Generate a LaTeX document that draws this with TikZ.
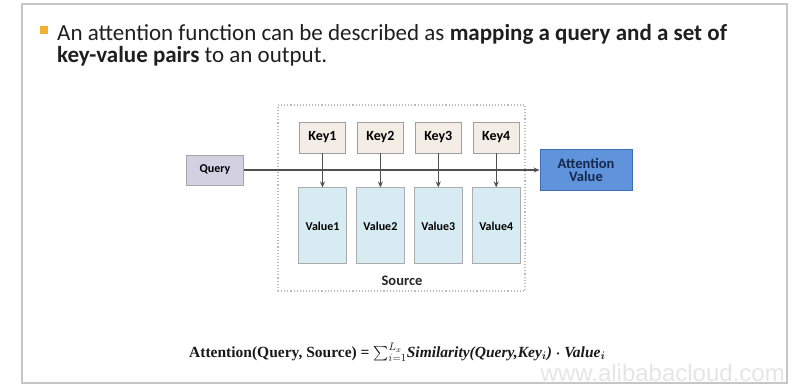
\documentclass[tikz,border=0pt]{standalone}
\usepackage{fontspec}
\setmainfont{Carlito}
\newfontfamily\formfont{Liberation Serif}
\newfontfamily\markfont{Liberation Sans}
\usepackage{amsmath}
\usepackage{xcolor}
\usetikzlibrary{arrows.meta, positioning}

\definecolor{keyfill}{HTML}{F4EDE6}
\definecolor{valfill}{HTML}{D6ECF2}
\definecolor{qryfill}{HTML}{D3D0E2}
\definecolor{attfill}{HTML}{5F93DB}
\definecolor{attline}{HTML}{3F6DB3}
\definecolor{atttext}{HTML}{17284D}
\definecolor{bulletc}{HTML}{F0B132}
\definecolor{linec}{HTML}{505050}

\begin{document}
\begin{tikzpicture}[
  x=1pt, y=-1pt,
  keybox/.style={draw=gray!75, line width=0.9pt, fill=keyfill, minimum width=46pt,
                 minimum height=31pt, font=\fontsize{14}{16}\selectfont\bfseries, inner sep=0pt},
  valbox/.style={draw=gray!65, line width=0.9pt, fill=valfill, minimum width=48pt,
                 minimum height=76pt, font=\fontsize{12}{14}\selectfont\bfseries, inner sep=0pt},
  arr/.style={-{Stealth[length=6pt, width=5pt]}, line width=1.2pt, draw=linec},
  node distance=11pt and 11pt
]
  \useasboundingbox (0,0) rectangle (795,385);

  % slide frame
  \draw[gray!45, line width=1.6pt] (22,4) rectangle (787,383);

  % heading
  \node[fill=bulletc, minimum size=8pt, inner sep=0pt] (bullet) at (44,30) {};
  \node[anchor=north west, align=left, inner sep=0pt, text=black!88,
        font=\fontsize{23}{22}\selectfont] (title) at (57,24)
    {An attention function can be described as \textbf{mapping a query and a set of}\\
     \textbf{key-value pairs} to an output.};

  % source area
  \node[draw=gray!55, dotted, line width=1.1pt, minimum width=247pt, minimum height=186pt,
        inner sep=0pt] (src) at (401.5,198) {};
  \node[font=\fontsize{14.5}{16}\selectfont\bfseries, text=black!85] (srclbl) at (402,281) {Source};

  % keys
  \node[keybox] (key1) at (322.5,137.5) {Key1};
  \node[keybox, right=of key1] (key2) {Key2};
  \node[keybox, right=of key2] (key3) {Key3};
  \node[keybox, right=of key3] (key4) {Key4};

  % values
  \foreach \i in {1,...,4}
    \node[valbox, below=34pt of key\i] (val\i) {Value\i};

  % query and output
  \node[draw=gray!70, line width=0.9pt, fill=qryfill, minimum width=57pt, minimum height=30pt,
        font=\fontsize{12}{14}\selectfont\bfseries, inner sep=0pt] (query) at (215,170) {Query};
  \node[draw=attline, line width=0.9pt, fill=attfill, minimum width=92pt, minimum height=41pt,
        align=center, text=atttext, font=\fontsize{14.5}{13}\selectfont\bfseries,
        inner sep=0pt] (att) at (586,169.5) {Attention\\Value};

  % arrows
  \draw[arr] (query.east) -- (query.east -| att.west);
  \foreach \i in {1,...,4}
    \draw[arr] (key\i.south) -- (val\i.north);

  % watermark
  \node[anchor=base east, inner sep=0pt, text=gray!20, font=\markfont\fontsize{24}{26}\selectfont]
    (mark) at (785,381) {www.alibabacloud.com};

  % formula
  \node[anchor=base west, inner sep=0pt, text=black!90,
        font=\formfont\fontsize{15.5}{17}\selectfont\bfseries] (formula) at (189,357)
    {Attention(Query, Source) = $\sum_{i=1}^{L_x}$\textit{Similarity(Query,Key$_{\boldsymbol{i}}$)
     $\boldsymbol{\cdot}$ Value$_{\boldsymbol{i}}$}};
\end{tikzpicture}
\end{document}
